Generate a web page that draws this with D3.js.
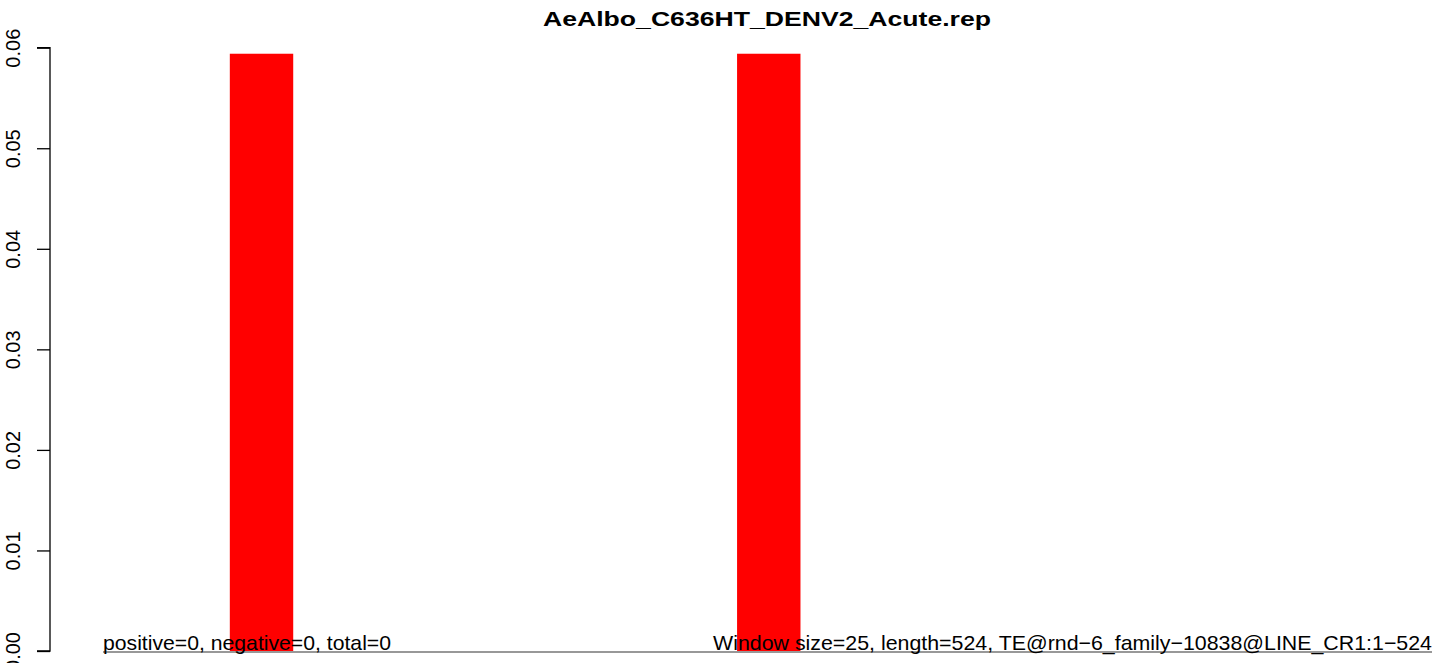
<!DOCTYPE html>
<html>
<head>
<meta charset="utf-8">
<script src="https://cdn.jsdelivr.net/npm/d3@7"></script>
<style>
  html, body { margin: 0; padding: 0; background: #fff; }
  svg { display: block; }
  text { font-family: "Liberation Sans", Arial, Helvetica, sans-serif; fill: #000; }
</style>
</head>
<body>
<script>
// ---- data ----
const title = "AeAlbo_C636HT_DENV2_Acute.rep";
const windowStarts = [50, 250];
const windowSize = 25;
const barValues = [0.0594, 0.0594];
const seqLength = 524;
const yTicks = [0.00, 0.01, 0.02, 0.03, 0.04, 0.05, 0.06];
const leftNote = "positive=0, negative=0, total=0";
const rightNote = "Window size=25, length=524, TE@rnd\u22126_family\u221210838@LINE_CR1:1\u2212524";

const W = 1444, H = 663;
const svg = d3.select("body").append("svg").attr("width", W).attr("height", H);

const x = d3.scaleLinear().domain([0, seqLength]).range([103, 1432]);
const y = d3.scaleLinear().domain([0, 0.06]).range([651, 47.7]);

// bars
svg.append("g").selectAll("rect")
  .data(windowStarts.map((s, i) => ({ s, v: barValues[i] })))
  .join("rect")
  .attr("x", d => x(d.s))
  .attr("width", d => x(d.s + windowSize) - x(d.s))
  .attr("y", d => y(d.v))
  .attr("height", d => y(0) - y(d.v))
  .attr("fill", "#ff0000");

// y axis
const yAxis = d3.axisLeft(y).tickValues(yTicks).tickFormat(d3.format(".2f")).tickSize(13).tickPadding(0);
const gy = svg.append("g").attr("transform", "translate(50,0)").call(yAxis);
gy.select(".domain").attr("d", `M-13,${y(0.06)}H0V${y(0)}H-13`).attr("stroke", "#000").attr("stroke-width", 1.3).attr("fill", "none");
gy.selectAll(".tick line").attr("stroke", "#000").attr("stroke-width", 1.3);
gy.selectAll(".tick text")
  .attr("x", null).attr("dy", null)
  .attr("text-anchor", "middle")
  .attr("font-size", 20)
  .attr("font-family", "Liberation Sans, Arial, sans-serif")
  .attr("transform", "translate(-30,0) rotate(-90)");

// baseline
svg.append("line")
  .attr("x1", x(0)).attr("x2", x(seqLength))
  .attr("y1", y(0) + 1).attr("y2", y(0) + 1)
  .attr("stroke", "#333").attr("stroke-width", 1.2);

// notes
svg.append("text").attr("x", x(0)).attr("y", 650)
  .attr("font-size", 21).attr("textLength", 288).attr("lengthAdjust", "spacingAndGlyphs")
  .text(leftNote);
svg.append("text").attr("x", x(seqLength)).attr("y", 650)
  .attr("text-anchor", "end")
  .attr("font-size", 21).attr("textLength", 719).attr("lengthAdjust", "spacingAndGlyphs")
  .text(rightNote);

// title
svg.append("text").attr("x", 767).attr("y", 26)
  .attr("text-anchor", "middle").attr("font-weight", "bold")
  .attr("font-size", 21).attr("textLength", 448).attr("lengthAdjust", "spacingAndGlyphs")
  .text(title);
</script>
</body>
</html>
